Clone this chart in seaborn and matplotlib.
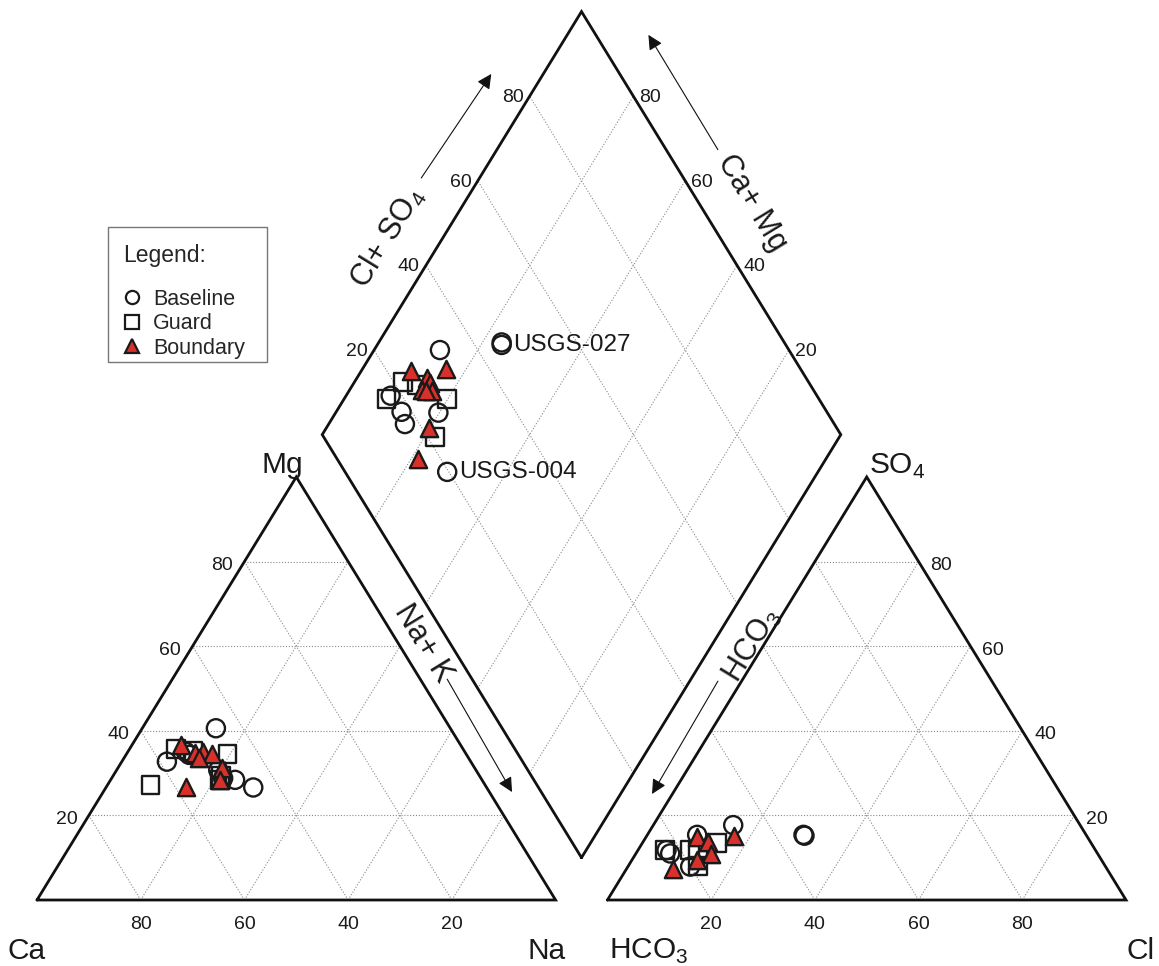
import numpy as np
import pandas as pd
import matplotlib.pyplot as plt
from matplotlib.lines import Line2D
from matplotlib.patches import Rectangle
import seaborn as sns

# ===============================
# Data (percent of meq/L)
# ===============================
# cation triangle: Mg and Na+K (Ca is the rest)
cat_base_mg = [40.6, 32.7, 34.3, 35.0, 30.7, 28.8, 28.4, 26.6]
cat_base_na = [14.2, 8.7, 12.2, 11.2, 19.6, 21.5, 24.0, 28.4]
cat_guard_mg = [35.6, 35.2, 34.5, 28.4, 27.2, 29.3]
cat_guard_na = [9.0, 12.5, 19.5, 21.1, 8.3, 20.8]
cat_bound_mg = [36.6, 34.7, 35.1, 34.5, 33.5, 31.1, 28.4, 26.8]
cat_bound_na = [9.4, 13.1, 14.5, 16.4, 14.4, 20.1, 21.1, 15.3]

# anion triangle: Cl and SO4 (HCO3 is the rest)
an_base_cl = [5.5, 6.6, 9.6, 12.0, 15.4, 30.1, 30.4]
an_base_so4 = [11.8, 11.0, 15.4, 7.9, 17.7, 15.4, 15.2]
an_guard_cl = [5.2, 10.0, 14.4, 11.6, 13.5]
an_guard_so4 = [11.8, 11.8, 13.4, 11.8, 8.0]
an_bound_cl = [9.7, 12.4, 14.6, 12.5, 8.9, 16.9]
an_bound_so4 = [15.0, 13.8, 10.9, 9.5, 7.3, 15.1]

# diamond: Ca+Mg and Cl+SO4
dia_base_camg = [87.3, 91.4, 87.4, 85.3, 80.2, 71.5, 76.0, 76.3]
dia_base_clso4 = [32.7, 17.8, 18.0, 17.2, 25.0, 19.7, 45.2, 45.5]
dia_guard_camg = [90.7, 87.6, 80.1, 91.8, 78.0]
dia_guard_clso4 = [21.8, 24.1, 28.3, 16.6, 21.5]
dia_bound_camg = [83.9, 90.5, 86.5, 85.3, 86.1, 84.0, 85.0, 80.1, 78.6]
dia_bound_clso4 = [31.6, 24.6, 26.8, 26.8, 24.5, 26.2, 25.2, 21.4, 15.6]

ticks = [20, 40, 60, 80]
groups = ['Baseline', 'Guard', 'Boundary']
labelled = {'USGS-027': (76.0, 45.2), 'USGS-004': (71.5, 19.7)}

# ===============================
# Piper geometry
# ===============================
SQ = np.sqrt(3) / 2
GAP = 10
OFF = 100 + GAP
BX, BY = 105, GAP * SQ   # bottom vertex of the diamond


def cation_xy(na, mg):
    na, mg = np.asarray(na), np.asarray(mg)
    return na + 0.5 * mg, SQ * mg


def anion_xy(cl, so4):
    cl, so4 = np.asarray(cl), np.asarray(so4)
    return OFF + cl + 0.5 * so4, SQ * so4


def diamond_xy(camg, clso4):
    camg, clso4 = np.asarray(camg), np.asarray(clso4)
    return BX - 0.5 * camg + 0.5 * clso4, BY + SQ * (camg + clso4)


rows = []
sets = [
    (cation_xy, [(cat_base_na, cat_base_mg), (cat_guard_na, cat_guard_mg), (cat_bound_na, cat_bound_mg)]),
    (anion_xy, [(an_base_cl, an_base_so4), (an_guard_cl, an_guard_so4), (an_bound_cl, an_bound_so4)]),
    (diamond_xy, [(dia_base_camg, dia_base_clso4), (dia_guard_camg, dia_guard_clso4),
                  (dia_bound_camg, dia_bound_clso4)]),
]
for func, pairs in sets:
    for grp, (a, b) in zip(groups, pairs):
        x, y = func(a, b)
        for xi, yi in zip(x, y):
            rows.append({'x': xi, 'y': yi, 'group': grp})
df = pd.DataFrame(rows)

# ===============================
# Plot
# ===============================
sns.set_style('white')
plt.rcParams['font.family'] = ['Liberation Sans', 'DejaVu Sans']
plt.rcParams['mathtext.fontset'] = 'custom'
plt.rcParams['mathtext.rm'] = 'Liberation Sans'

fig = plt.figure(figsize=(11.59, 9.66), dpi=100)
ax = fig.add_axes([0, 0, 1, 1])
ax.set_xlim(-7.135, 216.36)
ax.set_ylim(-13.51, 184.24)
ax.set_axis_off()

grid_kw = dict(color='#8a8a8a', lw=0.8, ls=(0, (1, 1.6)), zorder=1)
edge_kw = dict(color='#111111', lw=2.0, zorder=2, solid_joinstyle='miter')

# grid lines
for k in ticks:
    # cation triangle
    ax.plot([0.5 * k, 100 - 0.5 * k], [SQ * k, SQ * k], **grid_kw)
    ax.plot([k, k + 0.5 * (100 - k)], [0, SQ * (100 - k)], **grid_kw)
    ax.plot([k, 0.5 * k], [0, SQ * k], **grid_kw)
    # anion triangle
    ax.plot([OFF + 0.5 * k, OFF + 100 - 0.5 * k], [SQ * k, SQ * k], **grid_kw)
    ax.plot([OFF + k, OFF + k + 0.5 * (100 - k)], [0, SQ * (100 - k)], **grid_kw)
    ax.plot([OFF + k, OFF + 0.5 * k], [0, SQ * k], **grid_kw)
    # diamond
    x0, y0 = diamond_xy(k, 0)
    x1, y1 = diamond_xy(k, 100)
    ax.plot([x0, x1], [y0, y1], **grid_kw)
    x0, y0 = diamond_xy(0, k)
    x1, y1 = diamond_xy(100, k)
    ax.plot([x0, x1], [y0, y1], **grid_kw)

# outlines
ax.plot([0, 100, 50, 0], [0, 0, SQ * 100, 0], **edge_kw)
ax.plot([OFF, OFF + 100, OFF + 50, OFF], [0, 0, SQ * 100, 0], **edge_kw)
dx, dy = diamond_xy([0, 100, 100, 0, 0], [0, 0, 100, 100, 0])
ax.plot(dx, dy, **edge_kw)

# points
styles = {
    'Baseline': dict(marker='o', s=170, facecolor='none'),
    'Guard': dict(marker='s', s=165, facecolor='none'),
    'Boundary': dict(marker='^', s=155, facecolor='#d8312b'),
}
for grp in groups:
    sub = df[df['group'] == grp]
    sns.scatterplot(data=sub, x='x', y='y', edgecolor='#1a1a1a', linewidth=1.7,
                    ax=ax, zorder=4, **styles[grp])

# tick labels
tk = dict(fontsize=14, ha='center', va='center', color='#1a1a1a')
for k in ticks:
    ax.text(k, -5.1, str(100 - k), **tk)
    ax.text(0.5 * k - 4.3, SQ * k - 0.8, str(k), **tk)
    ax.text(OFF + k, -5.1, str(k), **tk)
    ax.text(OFF + 100 - 0.5 * k + 4.4, SQ * k - 0.8, str(k), **tk)
    x, y = diamond_xy(100, k)
    ax.text(x - 3.3, y - 0.3, str(k), **tk)
    x, y = diamond_xy(k, 100)
    ax.text(x + 3.3, y - 0.3, str(k), **tk)

# corner labels
cl = dict(fontsize=21.5, va='baseline', color='#1a1a1a')
ax.text(-2.1, -12.0, 'Ca', ha='center', **cl)
ax.text(98.2, -12.0, 'Na', ha='center', **cl)
ax.text(47.4, 87.4, 'Mg', ha='center', **cl)
ax.text(110.3, -12.0, 'HCO$_3$', ha='left', **cl)
ax.text(215.6, -12.0, 'Cl', ha='right', **cl)
ax.text(160.4, 87.2, 'SO$_4$', ha='left', **cl)

# axis titles with arrows
ang = np.degrees(np.arctan2(SQ * 100 * 4.885, 50 * 5.186))
at = dict(fontsize=22, ha='center', va='center', color='#1a1a1a')
ax.text(74.4, 52.6, 'Na+ K', rotation=-ang, **at)
ax.text(137.9, 52.2, 'HCO$_3$', rotation=ang, **at)
ax.text(67.6, 135.7, 'Cl+ SO$_4$', rotation=ang, **at)
ax.text(137.9, 142.7, 'Ca+ Mg', rotation=-ang, **at)
arrow_kw = dict(arrowstyle='-|>', lw=0.8, color='#111111', mutation_scale=22,
                shrinkA=0, shrinkB=0)
for tail, head in [((79.1, 45.2), (91.6, 22.1)), ((131.3, 44.8), (118.6, 21.7)),
                   ((74.1, 147.8), (87.6, 169.1)), ((131.3, 153.6), (117.9, 177.1))]:
    ax.annotate('', xy=head, xytext=tail, arrowprops=arrow_kw)

# sample labels
for name, (camg, clso4) in labelled.items():
    x, y = diamond_xy(camg, clso4)
    ax.text(x + 2.3, y, name, fontsize=17.5, ha='left', va='center', color='#1a1a1a')

# legend (frame drawn separately so its size matches)
fig.patches.append(Rectangle((108 / 1159, 1 - 362 / 966), 159 / 1159, 135 / 966,
                             transform=fig.transFigure, fill=False,
                             edgecolor='#777777', lw=1.0))
handles = [
    Line2D([], [], ls='none', marker='o', ms=9.5, mfc='none', mec='#1a1a1a', mew=1.6),
    Line2D([], [], ls='none', marker='s', ms=9.5, mfc='none', mec='#1a1a1a', mew=1.6),
    Line2D([], [], ls='none', marker='^', ms=9.5, mfc='#d8312b', mec='#1a1a1a', mew=1.6),
]
leg = ax.legend(handles, groups, title='Legend:\n', loc='upper left',
                bbox_to_anchor=(123 / 1159, 1 - 244 / 966), bbox_transform=fig.transFigure,
                frameon=False, fontsize=15.5, title_fontsize=16.5, alignment='left',
                borderpad=0, labelspacing=0.16, handlelength=0.8, handletextpad=0.6,
                borderaxespad=0)
leg.get_title().set_linespacing(0.75)

fig.savefig('out.png', dpi=100)
